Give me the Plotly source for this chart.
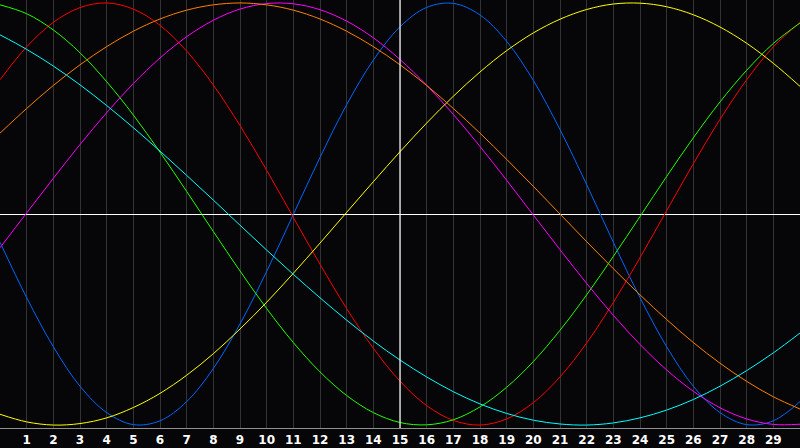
import plotly.graph_objects as go

# biorhythm values (percent) for days 0..30
days = list(range(0, 31))
tick_days = list(range(1, 30))
today = 15

physical = [-13.4, -39.6, -62.9, -81.6, -94.1, -99.8, -98.0, -88.9, -73.2, -52.1, -27.2,
            -0.2, 26.8, 51.8, 72.9, 88.7, 97.9, 99.8, 94.3, 81.8, 63.3, 40.0, 13.9,
            -13.4, -39.6, -62.9, -81.6, -94.1, -99.8, -98.0, -88.9]
emotional = [63.6, 79.2, 90.8, 97.8, 100.0, 97.1, 89.4, 77.2, 61.1, 41.9, 20.7,
             -1.6, -23.8, -44.8, -63.6, -79.2, -90.8, -97.8, -100.0, -97.1, -89.4,
             -77.2, -61.1, -41.9, -20.7, 1.6, 23.8, 44.8, 63.6, 79.2, 90.8]
intellectual = [99.1, 94.9, 87.2, 76.4, 62.7, 46.9, 29.3, 10.7, -8.3, -27.0, -44.8,
                -60.9, -74.8, -86.0, -94.1, -98.8, -99.9, -97.5, -91.4, -82.1, -69.9,
                -55.1, -38.3, -20.1, -1.2, 17.8, 36.1, 53.1, 68.1, 80.8, 90.5]
intuitive = [-16.0, 0.5, 16.9, 32.9, 48.0, 61.8, 73.9, 84.0, 91.8, 97.1, 99.7,
             99.6, 96.8, 91.4, 83.5, 73.2, 61.0, 47.2, 32.0, 16.0, -0.5,
             -16.9, -32.9, -48.0, -61.8, -73.9, -84.0, -91.8, -97.1, -99.7, -99.6]
aesthetic = [-94.9, -98.5, -100.0, -99.3, -96.6, -91.7, -85.0, -76.4, -66.2, -54.5, -41.8,
             -28.1, -13.8, 0.8, 15.3, 29.5, 43.1, 55.8, 67.3, 77.4, 85.8,
             92.3, 96.9, 99.5, 99.9, 98.2, 94.4, 88.6, 80.9, 71.4, 60.5]
awareness = [38.3, 50.0, 60.9, 70.7, 79.3, 86.6, 92.4, 96.6, 99.1, 100.0, 99.1,
             96.6, 92.4, 86.6, 79.3, 70.7, 60.9, 50.0, 38.3, 25.9, 13.1,
             0.0, -13.1, -25.9, -38.3, -50.0, -60.9, -70.7, -79.3, -86.6, -92.4]
spiritual = [84.9, 78.0, 70.1, 61.2, 51.4, 40.9, 29.8, 18.3, 6.6, -5.3, -17.1,
             -28.6, -39.7, -50.3, -60.2, -69.2, -77.2, -84.2, -90.0, -94.5, -97.7,
             -99.5, -100.0, -99.0, -96.6, -92.9, -87.9, -81.6, -74.2, -65.8, -56.4]

series = [
    ("Physical", physical, "#0066ff"),
    ("Emotional", emotional, "#ff0000"),
    ("Intellectual", intellectual, "#22ff00"),
    ("Intuitive", intuitive, "#ff00ff"),
    ("Aesthetic", aesthetic, "#ffff00"),
    ("Awareness", awareness, "#ff8000"),
    ("Spiritual", spiritual, "#00ffff"),
]

fig = go.Figure()
for name, vals, color in series:
    fig.add_trace(go.Scatter(
        x=days, y=vals, mode="lines", name=name,
        line=dict(color=color, width=1, shape="spline"),
        hoverinfo="x+y+name",
    ))

fig.add_vline(x=today, line=dict(color="white", width=1.2))

fig.update_layout(
    width=800, height=448,
    margin=dict(l=0, r=0, t=0, b=20),
    plot_bgcolor="#060608", paper_bgcolor="#060608",
    showlegend=False,
)
fig.update_xaxes(
    range=[0, 30], tickvals=tick_days, ticktext=[str(d) for d in tick_days],
    showgrid=True, gridcolor="#333333", gridwidth=1,
    showline=True, linecolor="#909090", linewidth=1, mirror=True,
    ticks="", ticklabelstandoff=1,
    tickfont=dict(color="white", size=12, family="DejaVu Sans", weight="bold"),
    zeroline=False,
)
fig.update_yaxes(
    range=[-101.4, 101.4], showgrid=False, showticklabels=False,
    showline=True, linecolor="#909090", linewidth=1, mirror=True,
    zeroline=True, zerolinecolor="white", zerolinewidth=1.2,
)

# page body has a default 8px margin; drop it so the chart fills the window
fig.write_html("out.html",
               config={"displayModeBar": False},
               post_script="document.body.style.margin='0';"
                           "document.body.style.background='#060608';")
